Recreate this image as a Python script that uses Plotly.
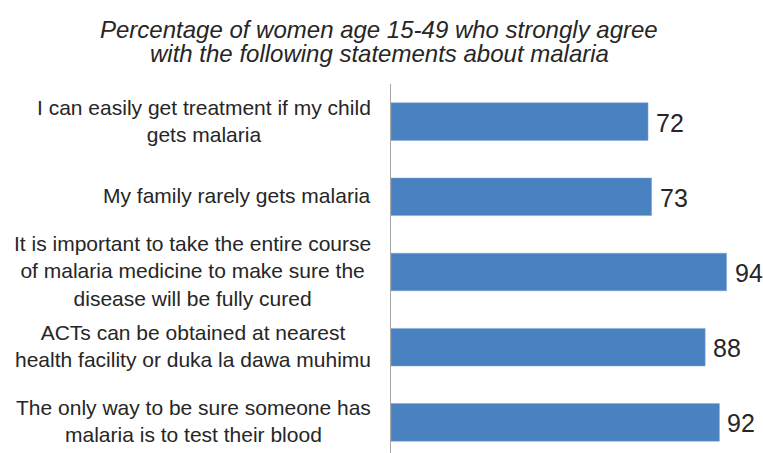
import plotly.graph_objs as go

# data (top to bottom)
statements = [
    "I can easily get treatment if my child<br>gets malaria",
    "My family rarely gets malaria",
    "It is important to take the entire course<br>of malaria medicine to make sure the<br>disease will be fully cured",
    "ACTs can be obtained at nearest<br>health facility or duka la dawa muhimu",
    "The only way to be sure someone has<br>malaria is to test their blood",
]
percent = [72, 73, 94, 88, 92]
title_lines = [
    "Percentage of women age 15-49 who strongly agree",
    "with the following statements about malaria",
]

W, H = 763, 453
PLOT_TOP = 84
PLOT_H = H - PLOT_TOP
FONT = "Liberation Sans, Arial, sans-serif"
TEXT = "#262626"
BLUE = "#4a81c0"


def py(y_pix):
    # pixel row -> paper coordinate
    return 1 + (PLOT_TOP - y_pix) / PLOT_H


fig = go.Figure()
fig.add_trace(go.Bar(
    x=percent,
    y=statements,
    orientation="h",
    marker=dict(color=BLUE, line=dict(color="#7fa6d4", width=0.5)),
    hoverinfo="skip",
))

annotations = []
# category labels, centred text block right-aligned next to the axis
for s in statements:
    annotations.append(dict(
        x=0, xref="paper", y=s, yref="y",
        text=s, showarrow=False, xanchor="right", yanchor="middle",
        align="center", xshift=-18, yshift=1,
        font=dict(family=FONT, size=21, color=TEXT),
    ))
# value labels at bar ends
for s, v in zip(statements, percent):
    annotations.append(dict(
        x=v, xref="x", y=s, yref="y",
        text=str(v), showarrow=False, xanchor="left", yanchor="middle",
        xshift=6, yshift=-1,
        font=dict(family=FONT, size=25, color=TEXT),
    ))
# title, one annotation per line to keep the tight line spacing
for i, line in enumerate(title_lines):
    annotations.append(dict(
        x=-0.033, xref="paper", y=py(29.5 + i * 24), yref="paper",
        text="<i>" + line + "</i>", showarrow=False,
        xanchor="center", yanchor="middle",
        font=dict(family=FONT, size=24, color=TEXT),
    ))

fig.update_layout(
    width=W, height=H,
    margin=dict(l=391, r=15, t=PLOT_TOP, b=0),
    paper_bgcolor="white", plot_bgcolor="white",
    showlegend=False,
    bargap=0.5,
    annotations=annotations,
    xaxis=dict(range=[0, 100], visible=False),
    yaxis=dict(
        type="category", categoryorder="array", categoryarray=statements,
        range=[4.407, -0.5],
        showticklabels=False, ticks="", showgrid=False, zeroline=False,
        showline=True, linecolor="#a6a6a6", linewidth=1,
    ),
)

# drop the default 8px body margin so the figure fills the window exactly
fig.write_html("out.html", config={"displayModeBar": False},
               post_script="document.body.style.margin='0';")
